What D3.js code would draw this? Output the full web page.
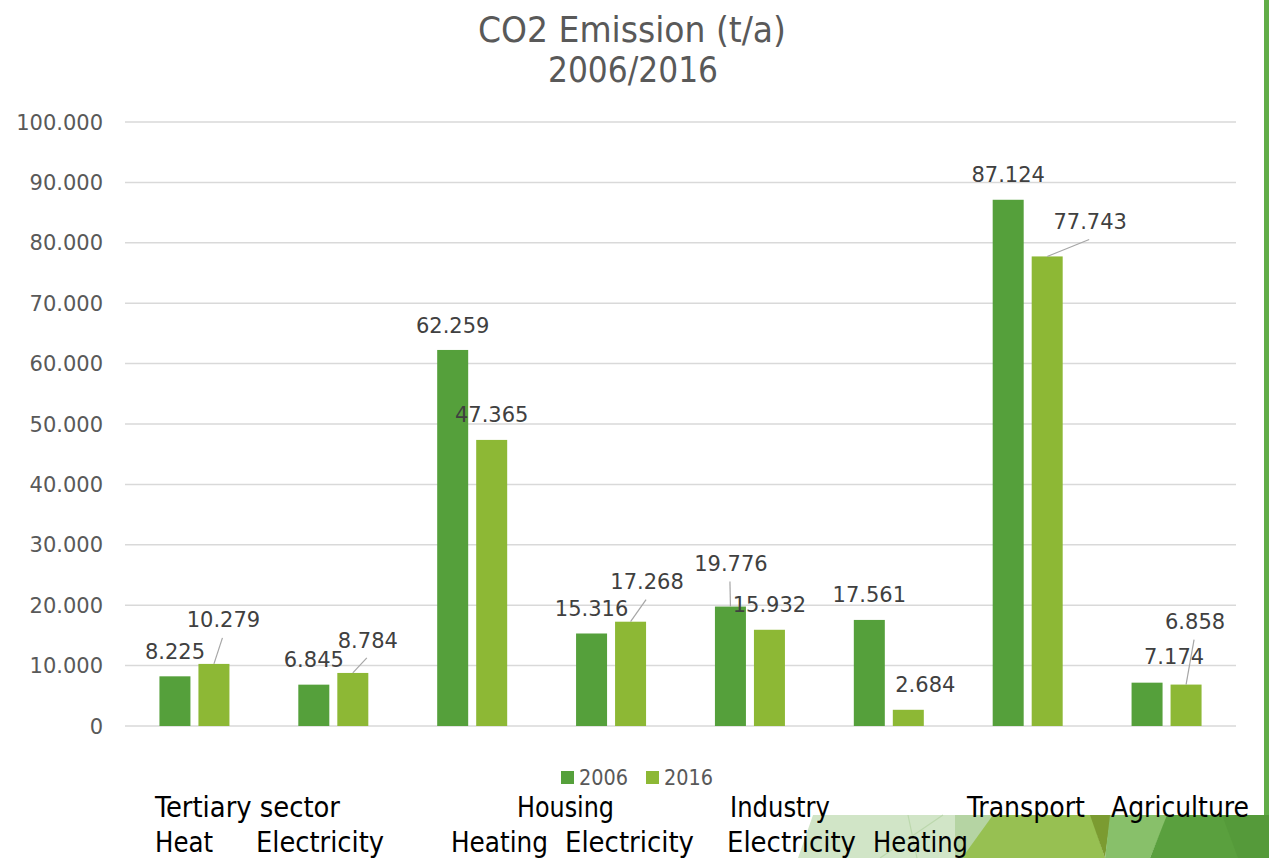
<!DOCTYPE html>
<html>
<head>
<meta charset="utf-8">
<title>CO2 Emission 2006/2016</title>
<script src="https://cdn.jsdelivr.net/npm/d3@7/dist/d3.min.js"></script>
<style>
  body { margin: 0; background: #fff; }
  svg { display: block; }
  .tick-label { font-family: "DejaVu Sans", sans-serif; font-size: 21px; fill: #595959; }
  .value-label { font-family: "DejaVu Sans", sans-serif; font-size: 21px; fill: #404040; }
  .narrow { font-family: "DejaVu Sans Condensed", "Liberation Sans Narrow", sans-serif; }
</style>
</head>
<body>
<script>
// data
var categories = ["Tertiary Heat", "Tertiary Electricity", "Housing Heating", "Housing Electricity",
                  "Industry Electricity", "Industry Heating", "Transport", "Agriculture"];
var series = ["2006", "2016"];
var values2006 = [8225, 6845, 62259, 15316, 19776, 17561, 87124, 7174];
var values2016 = [10279, 8784, 47365, 17268, 15932, 2684, 77743, 6858];
var yTicks = [0, 10000, 20000, 30000, 40000, 50000, 60000, 70000, 80000, 90000, 100000];
var groupTitles = ["Tertiary sector", "Housing", "Industry", "Transport", "Agriculture"];
var subTitles = ["Heat", "Electricity", "Heating", "Electricity", "Electricity", "Heating"];

// layout (label nudges [dx, dy, leader], text boxes [x, width])
var nudge2006 = [[0, 0, 0], [0, 0, 0], [0, 0, 0], [0, 0, 0], [0.5, -18, 1], [0, 0, 0], [0, 0, 0], [27, -1, 0]];
var nudge2016 = [[9.5, -19, 1], [15, -8, 1], [0, 0, 0], [16.5, -15, 1], [0, 0, 0], [17, 0, 0], [43, -10, 1], [9, -38, 1]];
var groupBoxes = [[155, 185], [517, 97], [730, 100], [967, 118], [1111, 138]];
var subBoxes = [[155, 58], [256, 128], [451, 97], [565, 129], [727, 129], [873, 95]];

var W = 1269, H = 858;
var colors = {"2006": "#55a03b", "2016": "#8db835"};

var loc = d3.formatLocale({decimal: ",", thousands: ".", grouping: [3], currency: ["", ""]});
var fmt = loc.format(",");

var svg = d3.select("body").append("svg").attr("width", W).attr("height", H);

// decoration: right stripe and bottom polygons
svg.append("rect").attr("x", 1264).attr("y", 0).attr("width", 5).attr("height", 816).attr("fill", "#62ad48");
var deco = [
  {c: "#d1e5c7", p: [[813, 815], [960, 815], [962, 858], [798, 858]]},
  {c: "#b5d4a3", p: [[955, 815], [995, 815], [963, 858], [955, 858]]},
  {c: "#97c052", p: [[993, 815], [1091, 815], [1105, 858], [962, 858]]},
  {c: "#7b9b31", p: [[1090, 815], [1111, 815], [1105, 858]]},
  {c: "#88c06a", p: [[1110, 815], [1168, 815], [1150, 858], [1105, 858]]},
  {c: "#5aa03e", p: [[1167, 815], [1269, 815], [1269, 858], [1150, 858]]},
  {c: "#559a3a", p: [[1222, 815], [1269, 815], [1269, 858], [1238, 858]]}
];
svg.append("g").selectAll("polygon").data(deco).join("polygon")
  .attr("points", function (d) { return d.p.join(" "); })
  .attr("fill", function (d) { return d.c; });
svg.append("g").attr("stroke", "#bcd8ad").attr("stroke-width", 1.2).selectAll("line")
  .data([[908, 815, 917, 858], [943, 815, 880, 858]]).join("line")
  .attr("x1", d => d[0]).attr("y1", d => d[1]).attr("x2", d => d[2]).attr("y2", d => d[3]);

// scales
var x0 = d3.scaleBand().domain(categories).range([125, 1236]);
var x1 = d3.scaleBand().domain(series).range([0, 70]).paddingInner(8 / 39);
var off = (x0.bandwidth() - 70) / 2;
var y = d3.scaleLinear().domain([0, 100000]).range([726, 122]);

// grid
svg.append("g").selectAll("line").data(yTicks).join("line")
  .attr("x1", 125).attr("x2", 1236)
  .attr("y1", d => y(d)).attr("y2", d => y(d))
  .attr("stroke", "#d9d9d9").attr("stroke-width", 1.5);

svg.append("g").selectAll("text").data(yTicks).join("text")
  .attr("class", "tick-label")
  .attr("x", 103).attr("y", d => y(d)).attr("dy", "0.36em")
  .attr("text-anchor", "end")
  .text(d => fmt(d));

// bars
var rows = [];
categories.forEach(function (c, i) {
  rows.push({cat: c, s: "2006", v: values2006[i], n: nudge2006[i]});
  rows.push({cat: c, s: "2016", v: values2016[i], n: nudge2016[i]});
});
rows.forEach(function (d) {
  d.cx = x0(d.cat) + off + x1(d.s) + x1.bandwidth() / 2;
  d.lx = d.cx + d.n[0];
  d.ly = y(d.v) - 25 + d.n[1];
});

svg.append("g").selectAll("rect").data(rows).join("rect")
  .attr("x", d => x0(d.cat) + off + x1(d.s))
  .attr("y", d => y(d.v))
  .attr("width", x1.bandwidth())
  .attr("height", d => y(0) - y(d.v))
  .attr("fill", d => colors[d.s]);

// leader lines
svg.append("g").selectAll("line").data(rows.filter(d => d.n[2])).join("line")
  .attr("x1", d => d.cx).attr("y1", d => y(d.v))
  .attr("x2", d => d.lx - 1).attr("y2", d => d.ly + 18)
  .attr("stroke", "#a6a6a6").attr("stroke-width", 1.2);

svg.append("g").selectAll("text").data(rows).join("text")
  .attr("class", "value-label")
  .attr("x", d => d.lx).attr("y", d => d.ly).attr("dy", "0.36em")
  .attr("text-anchor", "middle")
  .text(d => fmt(d.v));

// title
var title = svg.append("text").attr("class", "narrow").attr("fill", "#595959")
  .attr("font-size", 36).attr("text-anchor", "middle");
title.append("tspan").attr("x", 632).attr("y", 42).attr("textLength", 308).attr("lengthAdjust", "spacingAndGlyphs").text("CO2 Emission (t/a)");
title.append("tspan").attr("x", 633).attr("y", 82).attr("textLength", 170).attr("lengthAdjust", "spacingAndGlyphs").text("2006/2016");

// legend
var lx = [561, 646];
var leg = svg.append("g").selectAll("g").data(series).join("g")
  .attr("transform", (d, i) => "translate(" + lx[i] + ",771)");
leg.append("rect").attr("width", 13).attr("height", 13).attr("fill", d => colors[d]);
leg.append("text").attr("class", "narrow").attr("x", 18).attr("y", 14)
  .attr("font-size", 21).attr("fill", "#595959")
  .attr("textLength", 49).attr("lengthAdjust", "spacingAndGlyphs")
  .text(d => d);

// category text boxes
svg.append("g").selectAll("text").data(groupTitles).join("text")
  .attr("class", "narrow").attr("font-size", 28).attr("fill", "#000")
  .attr("x", (d, i) => groupBoxes[i][0]).attr("y", 817)
  .attr("textLength", (d, i) => groupBoxes[i][1]).attr("lengthAdjust", "spacingAndGlyphs")
  .text(d => d);
svg.append("g").selectAll("text").data(subTitles).join("text")
  .attr("class", "narrow").attr("font-size", 28).attr("fill", "#000")
  .attr("x", (d, i) => subBoxes[i][0]).attr("y", 852)
  .attr("textLength", (d, i) => subBoxes[i][1]).attr("lengthAdjust", "spacingAndGlyphs")
  .text(d => d);
</script>
</body>
</html>
